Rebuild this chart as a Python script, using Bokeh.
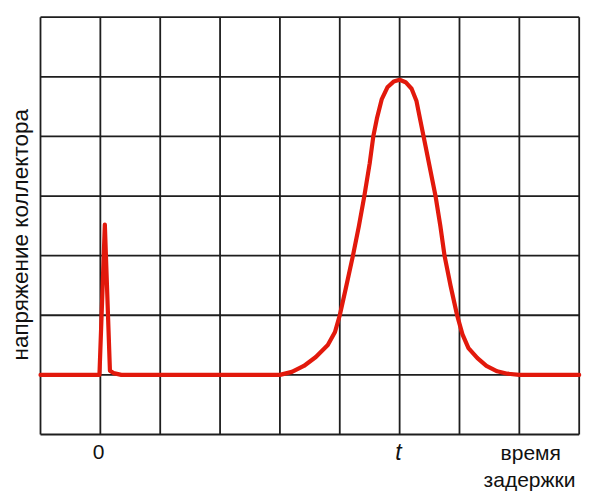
from bokeh.plotting import figure
from bokeh.models import Label
from bokeh.embed import file_html
from bokeh.resources import INLINE
import math

# curve (grid units: x 0..9, y 0..7)
curve_x = [0.0, 0.985, 1.075, 1.16, 1.22, 1.35, 4.00,
           4.20, 4.40, 4.60, 4.80, 4.92, 5.00, 5.10, 5.22, 5.32, 5.41, 5.50, 5.56,
           5.62, 5.70, 5.80, 5.90, 6.00, 6.10, 6.20, 6.28, 6.34, 6.40, 6.50, 6.60,
           6.68, 6.75, 6.85, 6.96, 7.05, 7.15, 7.30, 7.45, 7.63, 7.80, 8.00, 9.0]
curve_y = [1.0, 1.0, 3.52, 1.07, 1.03, 1.0, 1.0,
           1.05, 1.15, 1.30, 1.50, 1.72, 2.00, 2.45, 3.00, 3.50, 4.00, 4.55, 5.00,
           5.30, 5.62, 5.83, 5.92, 5.95, 5.91, 5.80, 5.60, 5.30, 5.00, 4.50, 4.00,
           3.50, 3.00, 2.50, 2.00, 1.68, 1.45, 1.28, 1.15, 1.06, 1.02, 1.00, 1.0]

x_ticks = list(range(0, 10))
y_ticks = list(range(0, 8))

y_title = "напряжение коллектора"
x_labels = ["0", "t"]
x_label_pos = [1, 6]
x_title = ["время", "задержки"]

FONT = "Liberation Sans"
W, H = 600, 493
# frame pixel placement of the grid
gx0, gx1 = 40.0, 578.7
gy0, gy1 = 434.0, 16.7
sx = (gx1 - gx0) / (x_ticks[-1] - x_ticks[0])
sy = (gy0 - gy1) / (y_ticks[-1] - y_ticks[0])
xr = (x_ticks[0] - gx0 / sx, x_ticks[-1] + (W - gx1) / sx)
yr = (y_ticks[0] - (H - gy0) / sy, y_ticks[-1] + gy1 / sy)

p = figure(width=W, height=H, output_backend="svg", toolbar_location=None,
           x_range=xr, y_range=yr,
           min_border_left=0, min_border_right=0, min_border_top=0, min_border_bottom=0)
p.xaxis.visible = False
p.yaxis.visible = False
p.xgrid.visible = False
p.ygrid.visible = False
p.outline_line_color = None
p.background_fill_color = "white"
p.border_fill_color = "white"

GRID = "#1e1e1e"
p.segment(x0=x_ticks, x1=x_ticks, y0=[y_ticks[0]] * len(x_ticks), y1=[y_ticks[-1]] * len(x_ticks),
          line_color=GRID, line_width=1.8)
p.segment(x0=[x_ticks[0]] * len(y_ticks), x1=[x_ticks[-1]] * len(y_ticks), y0=y_ticks, y1=y_ticks,
          line_color=GRID, line_width=1.8)

p.line(curve_x, curve_y, line_color="#e2190c", line_width=4.2,
       line_join="round", line_cap="round")

row1 = -0.30
row2 = -0.75
p.add_layout(Label(x=x_label_pos[0] - 0.03, y=row1, text=x_labels[0], text_align="center",
                   text_baseline="alphabetic", text_font=FONT, text_font_size="21px",
                   text_color="#111111"))
p.add_layout(Label(x=x_label_pos[1] - 0.02, y=row1, text=x_labels[1], text_align="center",
                   text_baseline="alphabetic", text_font=FONT, text_font_size="23px",
                   text_font_style="italic", text_color="#111111"))
p.add_layout(Label(x=8.19, y=row1, text=x_title[0], text_align="center",
                   text_baseline="alphabetic", text_font=FONT, text_font_size="21px",
                   text_color="#111111"))
p.add_layout(Label(x=8.17, y=row2, text=x_title[1], text_align="center",
                   text_baseline="alphabetic", text_font=FONT, text_font_size="21px",
                   text_color="#111111"))
p.add_layout(Label(x=-0.334, y=3.35, text=y_title, text_align="center",
                   text_baseline="middle", angle=math.pi / 2, text_font=FONT,
                   text_font_size="22.5px", text_color="#111111"))

open("out.html", "w").write(file_html(p, INLINE))
